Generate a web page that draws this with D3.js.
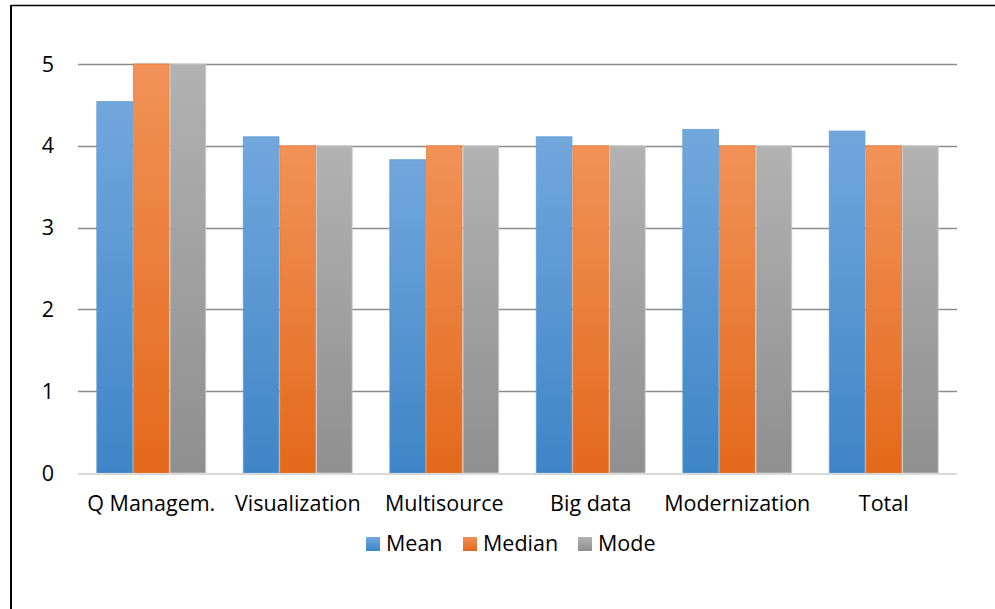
<!DOCTYPE html>
<html>
<head>
<meta charset="utf-8">
<script src="https://cdn.jsdelivr.net/npm/d3@7"></script>
<style>
  html, body { margin: 0; padding: 0; background: #fff; }
  svg { display: block; }
  text { font-family: "Open Sans", Lato, sans-serif; fill: #000; }
</style>
</head>
<body>
<svg id="chart" width="995" height="609"></svg>
<script>
// Survey score summary per topic
const categories = ["Q Managem.", "Visualization", "Multisource", "Big data", "Modernization", "Total"];
const seriesNames = ["Mean", "Median", "Mode"];
const meanValues = [4.54, 4.11, 3.83, 4.11, 4.20, 4.18];
const medianValues = [5, 4, 4, 4, 4, 4];
const modeValues = [5, 4, 4, 4, 4, 4];
const yTicks = [0, 1, 2, 3, 4, 5];

const seriesValues = [meanValues, medianValues, modeValues];
const colors = {
  Mean:   { top: "#72a7dd", bottom: "#3e85c7", stroke: "#5b9bd5" },
  Median: { top: "#f19258", bottom: "#e3691b", stroke: "#ed7d31" },
  Mode:   { top: "#b2b2b2", bottom: "#8f8f8f", stroke: "#c8c8c8" }
};

const svg = d3.select("#chart");
const plot = { left: 78, right: 957, top: 64, bottom: 473 };
const fontSize = 21.5;

// frame lines (top and left)
svg.append("line").attr("x1", 11).attr("x2", 995).attr("y1", 5.5).attr("y2", 5.5)
  .attr("stroke", "#000").attr("stroke-width", 1.5);
svg.append("line").attr("x1", 11).attr("x2", 11).attr("y1", 5).attr("y2", 609)
  .attr("stroke", "#000").attr("stroke-width", 2);

// gradients
const defs = svg.append("defs");
seriesNames.forEach(name => {
  const g = defs.append("linearGradient").attr("id", "grad-" + name)
    .attr("x1", 0).attr("y1", 0).attr("x2", 0).attr("y2", 1);
  g.append("stop").attr("offset", "0%").attr("stop-color", colors[name].top);
  g.append("stop").attr("offset", "100%").attr("stop-color", colors[name].bottom);
});

const x0 = d3.scaleBand().domain(categories).range([plot.left, plot.right]).paddingInner(0).paddingOuter(0);
const x1 = d3.scaleBand().domain(seriesNames).range([0, x0.bandwidth()]).paddingOuter(0.5).paddingInner(0);
const y = d3.scaleLinear().domain([0, 5]).range([plot.bottom, plot.top]);

// gridlines
svg.append("g").selectAll("line").data(yTicks.filter(t => t > 0)).join("line")
  .attr("x1", plot.left).attr("x2", plot.right)
  .attr("y1", d => Math.round(y(d)) + 0.5).attr("y2", d => Math.round(y(d)) + 0.5)
  .attr("stroke", "#8c8c8c").attr("stroke-width", 1.3);

// y tick labels
svg.append("g").selectAll("text").data(yTicks).join("text")
  .attr("x", 54).attr("y", d => y(d) + 7.5)
  .attr("text-anchor", "end").attr("font-size", fontSize)
  .text(d => d);

// bars
const groups = svg.append("g").selectAll("g").data(categories).join("g")
  .attr("transform", d => `translate(${x0(d)},0)`);
groups.selectAll("rect").data((c, i) => seriesNames.map((s, j) => ({ s, v: seriesValues[j][i] })))
  .join("rect")
  .attr("x", d => x1(d.s) + 0.5)
  .attr("width", x1.bandwidth() - 1)
  .attr("y", d => y(d.v))
  .attr("height", d => y(0) - y(d.v))
  .attr("fill", d => `url(#grad-${d.s})`)
  .attr("stroke", d => colors[d.s].stroke)
  .attr("stroke-width", 1)
  .attr("stroke-opacity", 0.8);

// baseline
svg.append("line").attr("x1", plot.left).attr("x2", plot.right)
  .attr("y1", plot.bottom + 1).attr("y2", plot.bottom + 1)
  .attr("stroke", "#d9d9d9").attr("stroke-width", 2);

// category labels
svg.append("g").selectAll("text").data(categories).join("text")
  .attr("x", d => x0(d) + x0.bandwidth() / 2).attr("y", 511)
  .attr("text-anchor", "middle").attr("font-size", fontSize)
  .text(d => d);

// legend
const legendItems = [
  { name: "Mean", x: 366 },
  { name: "Median", x: 463 },
  { name: "Mode", x: 578 }
];
const legend = svg.append("g").selectAll("g").data(legendItems).join("g")
  .attr("transform", d => `translate(${d.x},0)`);
legend.append("rect").attr("x", 0).attr("y", 537).attr("width", 14).attr("height", 14)
  .attr("fill", d => `url(#grad-${d.name})`);
legend.append("text").attr("x", 20).attr("y", 551).attr("font-size", fontSize)
  .text(d => d.name);
</script>
</body>
</html>
